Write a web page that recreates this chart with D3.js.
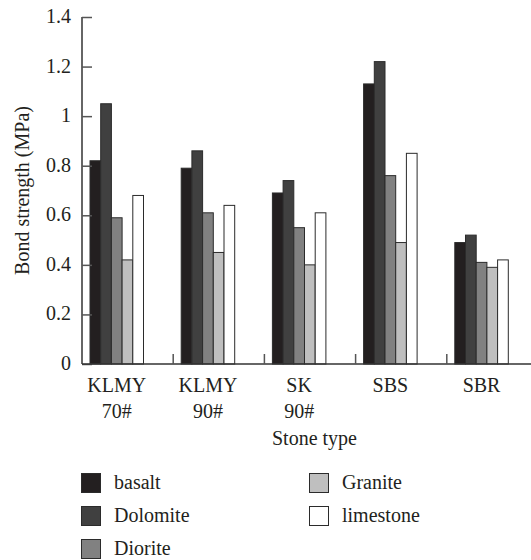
<!DOCTYPE html>
<html>
<head>
<meta charset="utf-8">
<script src="https://cdn.jsdelivr.net/npm/d3@7"></script>
<style>
  body { margin: 0; background: #fff; }
  svg text { font-family: "Liberation Serif", "Times New Roman", serif; fill: #231f20; }
</style>
</head>
<body>
<svg width="531" height="560"></svg>
<script>
const categories = [['KLMY', '70#'], ['KLMY', '90#'], ['SK', '90#'], ['SBS'], ['SBR']];
const series = ['basalt', 'Dolomite', 'Diorite', 'Granite', 'limestone'];
const values = {
  basalt:    [0.82, 0.79, 0.69, 1.13, 0.49],
  Dolomite:  [1.05, 0.86, 0.74, 1.22, 0.52],
  Diorite:   [0.59, 0.61, 0.55, 0.76, 0.41],
  Granite:   [0.42, 0.45, 0.40, 0.49, 0.39],
  limestone: [0.68, 0.64, 0.61, 0.85, 0.42]
};
const yTicks = [0, 0.2, 0.4, 0.6, 0.8, 1, 1.2, 1.4];
const fills = ['#231f20', '#404040', '#818181', '#bfbfbf', '#ffffff'];

const svg = d3.select('svg');
const fs = 20;

const x0 = d3.scaleBand().domain(d3.range(categories.length)).range([82, 538]);
const x1 = d3.scaleBand().domain(series).range([8, 61.5]);
const y = d3.scaleLinear().domain([0, 1.4]).range([364, 17]);
const color = d3.scaleOrdinal().domain(series).range(fills);

// bars
const groups = svg.append('g').selectAll('g')
    .data(categories.map((c, i) => i)).enter()
    .append('g')
    .attr('transform', i => `translate(${x0(i)},0)`);

groups.selectAll('rect')
    .data(i => series.map(s => ({ s, v: values[s][i] })))
    .enter().append('rect')
    .attr('x', d => x1(d.s))
    .attr('width', x1.bandwidth())
    .attr('y', d => y(d.v))
    .attr('height', d => y(0) - y(d.v))
    .attr('fill', d => color(d.s))
    .attr('stroke', '#2b2b2b')
    .attr('stroke-width', 1);

// y axis
const yAxis = svg.append('g').attr('transform', 'translate(82,0)')
    .call(d3.axisRight(y).tickValues(yTicks).tickSize(10).tickFormat(''));
yAxis.select('.domain').attr('d', `M0,${y(1.4)}V${y(0)}`).attr('stroke', '#333').attr('stroke-width', 1.5);
yAxis.selectAll('.tick line').attr('stroke', '#555').attr('stroke-width', 1.5);

svg.append('g').selectAll('text')
    .data(yTicks).enter().append('text')
    .attr('x', 71)
    .attr('y', d => y(d) + 6)
    .attr('text-anchor', 'end')
    .attr('font-size', fs)
    .text(d => d3.format('~g')(d));

// x axis
svg.append('line')
    .attr('x1', 82).attr('x2', 531)
    .attr('y1', y(0)).attr('y2', y(0))
    .attr('stroke', '#333').attr('stroke-width', 1.5);

svg.append('g').selectAll('line')
    .data(d3.range(1, categories.length)).enter().append('line')
    .attr('x1', i => x0(i)).attr('x2', i => x0(i))
    .attr('y1', y(0)).attr('y2', y(0) - 10)
    .attr('stroke', '#555').attr('stroke-width', 1.5);

const xLabels = svg.append('g').selectAll('text')
    .data(categories).enter().append('text')
    .attr('text-anchor', 'middle')
    .attr('font-size', fs)
    .attr('transform', (c, i) => `translate(${x0(i) + (x1.range()[0] + x1.range()[1]) / 2},392)`);
xLabels.selectAll('tspan')
    .data(c => c).enter().append('tspan')
    .attr('x', 0)
    .attr('dy', (t, j) => j === 0 ? 0 : 26)
    .text(t => t);

svg.append('text')
    .attr('x', (82 + 531) / 2 + 8)
    .attr('y', 445)
    .attr('text-anchor', 'middle')
    .attr('font-size', fs)
    .text('Stone type');

svg.append('text')
    .attr('transform', `translate(29,${(y(0) + y(1.4)) / 2}) rotate(-90)`)
    .attr('text-anchor', 'middle')
    .attr('font-size', fs)
    .text('Bond strength (MPa)');

// legend
const legend = svg.append('g').selectAll('g')
    .data(series).enter().append('g')
    .attr('transform', (s, i) => `translate(${i < 3 ? 81 : 309},${473 + (i % 3) * 33})`);
legend.append('rect')
    .attr('x', 0.5).attr('y', 0.5)
    .attr('width', 19).attr('height', 19)
    .attr('fill', s => color(s))
    .attr('stroke', '#2b2b2b');
legend.append('text')
    .attr('x', 33).attr('y', 16)
    .attr('font-size', fs)
    .text(s => s);
</script>
</body>
</html>
